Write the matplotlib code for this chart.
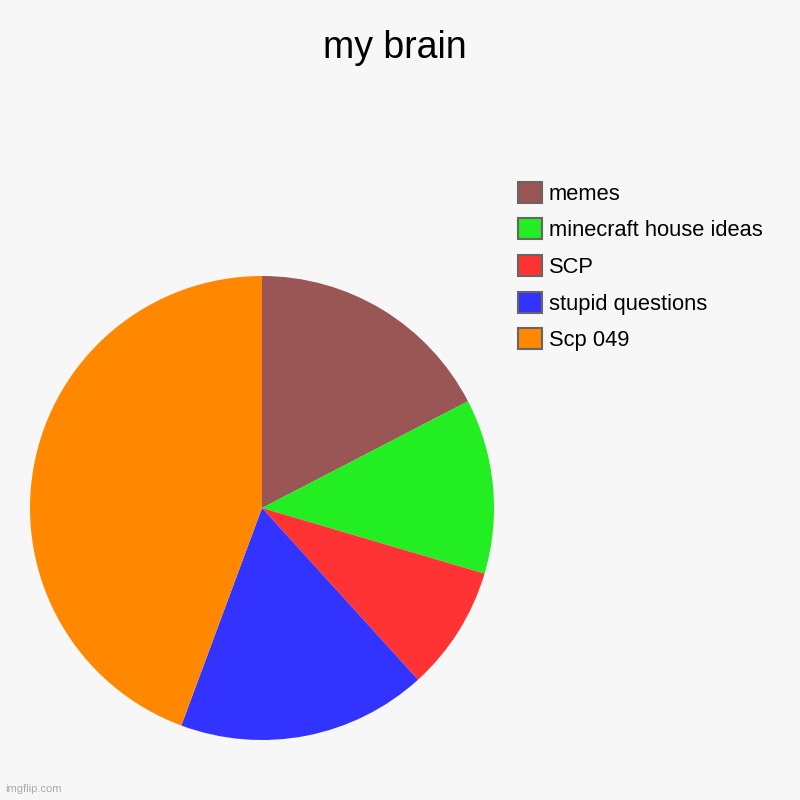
import matplotlib.pyplot as plt
from matplotlib.patches import Patch

plt.rcParams['font.family'] = ['Liberation Sans', 'DejaVu Sans']

labels = ['memes', 'minecraft house ideas', 'SCP', 'stupid questions', 'Scp 049']
values = [20, 14, 10, 20, 51]
colors = ['#9a5555', '#22ee22', '#ff3333', '#3333ff', '#ff8800']

bg = '#f7f7f7'
fig = plt.figure(figsize=(8, 8), dpi=100, facecolor=bg)
ax = fig.add_axes([0.0375, 0.075, 0.58, 0.58])
ax.set_facecolor(bg)

ax.pie(values, colors=colors, startangle=90, counterclock=False,
       radius=1, wedgeprops={'linewidth': 0})
ax.set_xlim(-1, 1)
ax.set_ylim(-1, 1)
ax.set_aspect('equal')
ax.axis('off')

fig.text(0.4935, 0.94, 'my brain', ha='center', va='center', fontsize=27)

handles = [Patch(facecolor=c, edgecolor='#666666', linewidth=1.5) for c in colors]
fig.legend(handles, labels, loc='upper left', bbox_to_anchor=(0.648, 0.773),
           frameon=False, fontsize=15.75, handlelength=1.1, handleheight=1.1,
           labelspacing=0.63, handletextpad=0.3, borderpad=0, borderaxespad=0)

fig.text(0.006, 0.01, 'imgflip.com', fontsize=8, color='#aaaaaa')

fig.savefig('out.png', facecolor=bg)
